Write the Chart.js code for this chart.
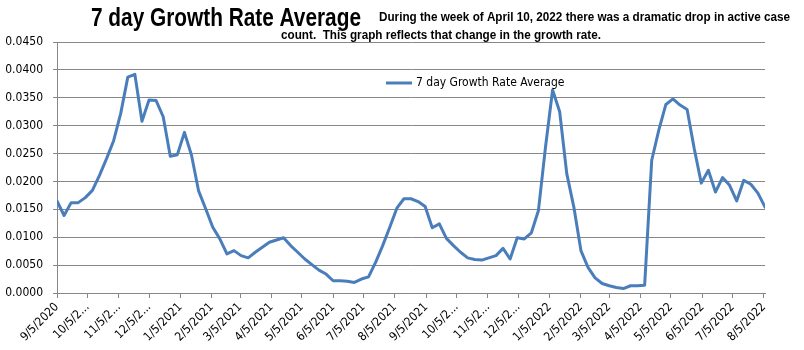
<!DOCTYPE html>
<html><head><meta charset="utf-8">
<script src="https://cdn.jsdelivr.net/npm/chart.js@4.4.1/dist/chart.umd.min.js"></script>
<style>html,body{margin:0;padding:0;background:#fff}#wrap{width:804px;height:350px;position:relative}</style>
</head><body><div id="wrap"><canvas id="c" width="804" height="350"></canvas></div>
<script>
// ---- data ----
const startDate = '2020-09-05';           // first weekly observation
const weekValues = [
  0.0165,0.0139,0.0162,0.0162,0.0171,0.0184,0.0211,0.0241,0.0273,0.0322,
  0.0387,0.0392,0.0308,0.0346,0.0345,0.0316,0.0245,0.0248,0.0288,0.0247,
  0.0183,0.0151,0.0118,0.0097,0.0070,0.0076,0.0067,0.0063,0.0073,0.0082,
  0.0091,0.0095,0.0099,0.0085,0.0073,0.0061,0.0051,0.0041,0.0034,0.0022,
  0.0022,0.0021,0.0019,0.0025,0.0029,0.0055,0.0085,0.0118,0.0152,0.0169,
  0.0169,0.0164,0.0155,0.0117,0.0124,0.0098,0.0085,0.0073,0.0063,0.0060,
  0.0059,0.0063,0.0067,0.0080,0.0061,0.0099,0.0097,0.0108,0.0148,0.0262,
  0.0364,0.0325,0.0214,0.0154,0.0076,0.0046,0.0027,0.0017,0.0013,0.0010,
  0.0008,0.0013,0.0013,0.0014,0.0238,0.0292,0.0338,0.0348,0.0337,0.0329,
  0.0259,0.0197,0.0220,0.0181,0.0207,0.0193,0.0165,0.0202,0.0195,0.0179,
  0.0154
];
const tickDates = [
  '2020-09-05','2020-10-05','2020-11-05','2020-12-05','2021-01-05','2021-02-05',
  '2021-03-05','2021-04-05','2021-05-05','2021-06-05','2021-07-05','2021-08-05',
  '2021-09-05','2021-10-05','2021-11-05','2021-12-05','2022-01-05','2022-02-05',
  '2022-03-05','2022-04-05','2022-05-05','2022-06-05','2022-07-05','2022-08-05'
];
const tickLabels = [
  '9/5/2020','10/5/2...','11/5/2...','12/5/2...','1/5/2021','2/5/2021',
  '3/5/2021','4/5/2021','5/5/2021','6/5/2021','7/5/2021','8/5/2021',
  '9/5/2021','10/5/2...','11/5/2...','12/5/2...','1/5/2022','2/5/2022',
  '3/5/2022','4/5/2022','5/5/2022','6/5/2022','7/5/2022','8/5/2022'
];
const yTickValues = [0,0.005,0.010,0.015,0.020,0.025,0.030,0.035,0.040,0.045];
const seriesLabel = '7 day Growth Rate Average';
const titleMain = '7 day Growth Rate Average';
const titleNote1 = 'During the week of April 10, 2022 there was a dramatic drop in active case';
const titleNote2 = 'count.  This graph reflects that change in the growth rate.';

// ---- helpers ----
const DAY = 86400000;
const t0 = Date.parse(startDate + 'T00:00:00Z');
const dayOf = s => Math.round((Date.parse(s + 'T00:00:00Z') - t0) / DAY);
const points = weekValues.map((v, i) => ({ x: i * 7, y: v }));
const tickDays = tickDates.map(dayOf);

const LINE = '#4a7ebb';
const GRID = '#878787';
const FONT = '"DejaVu Sans Condensed","DejaVu Sans",sans-serif';
const TFONT = '"Liberation Sans","Arial",sans-serif';

// draws text condensed horizontally by factor k (narrow title face look)
function drawCondensed(ctx, text, x, y, k, align) {
  ctx.save();
  ctx.translate(x, y);
  ctx.scale(k, 1);
  ctx.textAlign = align;
  ctx.fillText(text, 0, 0);
  ctx.restore();
}

const decor = {
  id: 'decor',
  afterDraw(chart) {
    const ctx = chart.ctx;
    ctx.save();
    ctx.fillStyle = '#000';
    ctx.textBaseline = 'alphabetic';
    ctx.font = 'bold 25px ' + TFONT;
    const k1 = Math.min(1, 270 / ctx.measureText(titleMain).width);
    drawCondensed(ctx, titleMain, 91, 26, k1, 'left');
    ctx.font = 'bold 12px ' + TFONT;
    const k2 = Math.min(1, 411 / ctx.measureText(titleNote1).width);
    drawCondensed(ctx, titleNote1, 379, 21, k2, 'left');
    drawCondensed(ctx, titleNote2, 441, 39, k2, 'center');
    // legend
    const lx = 386, ly = 83;
    ctx.strokeStyle = LINE;
    ctx.lineWidth = 3;
    ctx.lineCap = 'butt';
    ctx.beginPath(); ctx.moveTo(lx, ly); ctx.lineTo(lx + 26, ly); ctx.stroke();
    ctx.textAlign = 'left';
    ctx.textBaseline = 'middle';
    ctx.font = '12px ' + FONT;
    ctx.fillText(chart.data.datasets[0].label, lx + 30, ly);
    ctx.restore();
  }
};

new Chart(document.getElementById('c'), {
  type: 'line',
  data: {
    datasets: [{
      label: seriesLabel,
      data: points,
      borderColor: LINE,
      backgroundColor: LINE,
      borderWidth: 3,
      pointRadius: 0,
      tension: 0,
      fill: false,
      borderJoinStyle: 'round',
      borderCapStyle: 'round'
    }]
  },
  options: {
    responsive: false,
    animation: false,
    events: [],
    layout: { padding: { top: 42, right: 39, left: 0, bottom: 0 } },
    plugins: { legend: { display: false }, title: { display: false }, tooltip: { enabled: false } },
    scales: {
      x: {
        type: 'linear',
        min: 0,
        max: 700,
        afterBuildTicks: s => { s.ticks = tickDays.map(v => ({ value: v })); },
        afterFit: s => { s.height = 57; },
        ticks: {
          autoSkip: false,
          maxRotation: 45,
          minRotation: 45,
          padding: 2,
          color: '#000',
          font: { family: FONT, size: 12 },
          callback: (v, i) => tickLabels[i]
        },
        grid: { drawOnChartArea: false, color: GRID, tickLength: 5 },
        border: { color: GRID }
      },
      y: {
        min: 0,
        max: 0.045,
        afterBuildTicks: s => { s.ticks = yTickValues.map(v => ({ value: v })); },
        afterFit: s => { s.width = 57; },
        ticks: {
          padding: 10,
          color: '#000',
          font: { family: FONT, size: 12 },
          callback: v => Number(v).toFixed(4)
        },
        grid: { color: GRID, tickLength: 4 },
        border: { color: GRID }
      }
    }
  },
  plugins: [decor]
});
</script>
</body></html>
